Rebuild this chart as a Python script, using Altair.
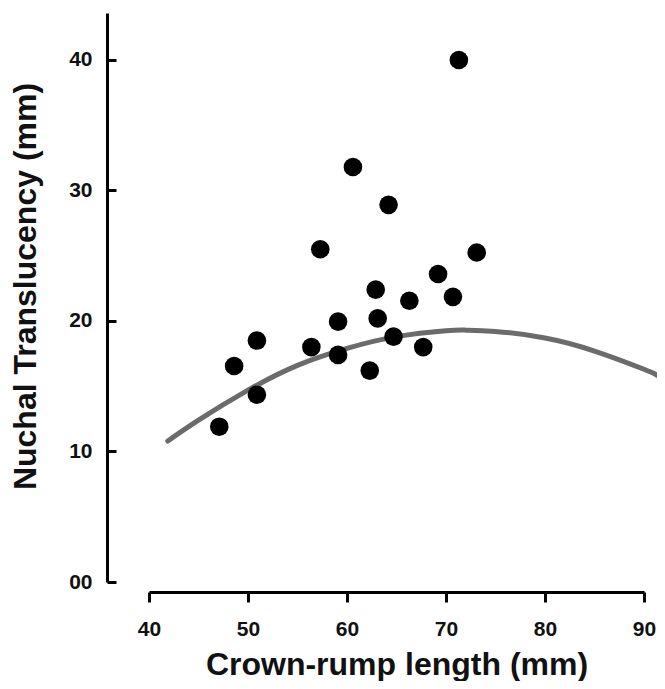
import altair as alt
import pandas as pd

# Scatter points: crown-rump length (mm) vs nuchal translucency
crl = [47.1, 48.6, 50.9, 50.9, 56.4, 57.3, 59.1, 59.1, 60.6, 62.3,
       62.9, 63.1, 64.2, 64.7, 66.3, 67.7, 69.2, 70.7, 71.3, 73.1]
nt = [11.9, 16.55, 18.5, 14.35, 18.0, 25.5, 19.95, 17.4, 31.8, 16.2,
      22.4, 20.2, 28.9, 18.8, 21.55, 18.0, 23.6, 21.85, 40.0, 25.25]

# Fitted curve
curve_x = [41.9, 45, 50, 55, 60, 65, 70, 72, 75, 80, 85, 90, 91.3]
curve_y = [10.8, 12.4, 14.7, 16.6, 17.9, 18.8, 19.25, 19.3, 19.2, 18.7, 17.7, 16.3, 15.85]

x_ticks = [40, 50, 60, 70, 80, 90]
y_ticks = [0, 10, 20, 30, 40]

pts = pd.DataFrame({"crl": crl, "nt": nt})
crv = pd.DataFrame({"crl": curve_x, "nt": curve_y})

FONT = "Liberation Sans"
W = 495

xscale = alt.Scale(domain=[40, 90], nice=False, zero=False)
yscale = alt.Scale(domain=[0, 43.6], nice=False, zero=False)

xaxis = alt.Axis(
    orient="bottom", offset=10, values=x_ticks, grid=False,
    domainColor="black", domainWidth=3, tickColor="black", tickWidth=3, tickSize=10,
    labelFont=FONT, labelFontSize=21, labelFontWeight="bold", labelColor="#111",
    labelPadding=16, labelFlush=False,
    title="Crown-rump length (mm)", titleFont=FONT, titleFontSize=32,
    titleFontWeight="bold", titleColor="#111",
    titleX=W / 2, titleY=82, titleBaseline="alphabetic", titleAlign="center",
)

yaxis = alt.Axis(
    orient="right", offset=-(W + 42), values=y_ticks, grid=False,
    domainColor="black", domainWidth=3, tickColor="black", tickWidth=3, tickSize=9,
    labelFont=FONT, labelFontSize=21, labelFontWeight="bold", labelColor="#111",
    labelPadding=-24, labelAlign="right", labelFlush=False,
    labelExpr="datum.value == 0 ? '00' : datum.label",
    title="Nuchal Translucency (mm)", titleFont=FONT, titleFontSize=32,
    titleFontWeight="bold", titleColor="#111", titleAngle=-90,
    titleX=-72, titleY=273, titleBaseline="alphabetic", titleAlign="center",
)

line = alt.Chart(crv).mark_line(
    color="#6b6b6b", strokeWidth=5, strokeCap="round", interpolate="natural"
).encode(
    x=alt.X("crl:Q", scale=xscale, axis=xaxis),
    y=alt.Y("nt:Q", scale=yscale, axis=yaxis),
)

points = alt.Chart(pts).mark_circle(
    color="black", opacity=1, size=346
).encode(
    x=alt.X("crl:Q", scale=xscale),
    y=alt.Y("nt:Q", scale=yscale),
)

chart = alt.layer(line, points).properties(
    width=W, height=569,
    autosize=alt.AutoSizeParams(type="none"),
    padding={"left": 141, "top": 5, "right": 13, "bottom": 99},
    background="white",
).configure_view(stroke=None)

chart.save("out.html", embed_options={"renderer": "svg", "actions": False})
